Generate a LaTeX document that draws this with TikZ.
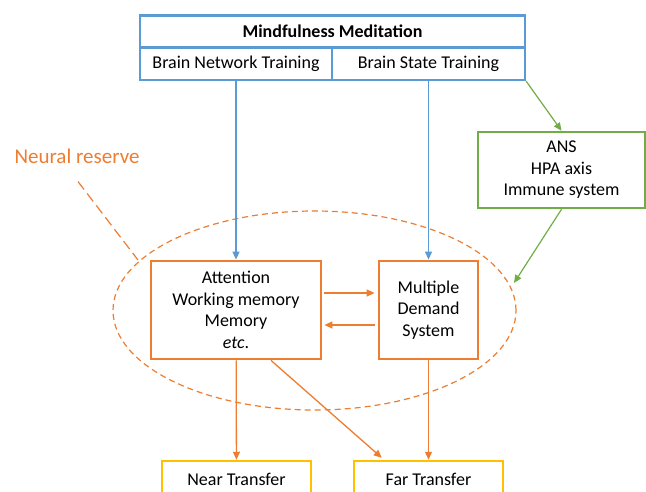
\documentclass[tikz,border=0pt]{standalone}
\usepackage{fontspec}
\setmainfont{Carlito}
\usepackage{tikz}
\usetikzlibrary{positioning,calc,arrows.meta}
\definecolor{msblue}{RGB}{91,155,213}
\definecolor{msorange}{RGB}{237,125,49}
\definecolor{msgreen}{RGB}{112,173,71}
\definecolor{msyellow}{RGB}{255,192,0}
\tikzset{>={Triangle[length=8pt,width=7pt]}}
\newcommand*{\bx}{\fontsize{18}{21.6}\selectfont}
\newcommand*{\lbl}{\fontsize{21}{25}\selectfont}

\begin{document}
\begin{tikzpicture}[x=1pt,y=-1pt,align=center,font=\bx,
  every node/.style={inner sep=0pt},
  bluebox/.style={draw=msblue,line width=2.2pt,fill=white,minimum height=32pt},
  orangebox/.style={draw=msorange,line width=2.8pt,fill=white},
  greenbox/.style={draw=msgreen,line width=2.5pt,fill=white},
  yellowbox/.style={draw=msyellow,line width=2.5pt,fill=white},
  bluearrow/.style={draw=msblue,line width=1.2pt,->},
  greenarrow/.style={draw=msgreen,line width=1.2pt,->},
  orangearrow/.style={draw=msorange,line width=1.3pt,->},
  reserve/.style={draw=msorange,line width=1.2pt,dash pattern=on 6pt off 4pt}]
\useasboundingbox (0,0) rectangle (646,491);
\clip (0,0) rectangle (646,491);
% Draw neural reserve ellipse and its label
\draw[reserve] (314.5,310.5) ellipse[x radius=201.5pt,y radius=99.5pt];
\node[font=\lbl,text=msorange] (nrlabel) at (77,156) {Neural reserve};
\coordinate (nrtip) at (138,260);
\draw[reserve,dash pattern=on 10pt off 5pt] ([shift={(1,18)}]nrlabel.south) -- (nrtip);
% Draw training boxes
\node[bluebox,minimum width=385pt,font=\bx\bfseries] (mm) at (332.5,31.5) {Mindfulness Meditation};
\node[bluebox,minimum width=192pt] (bnt) at (236,64) {Brain Network Training};
\node[bluebox,minimum width=193pt] (bst) at (428.5,64) {Brain State Training};
% Draw network and body boxes
\node[orangebox,minimum width=170pt,minimum height=98pt] (att) at (236,310) {Attention\\Working memory\\Memory\\\emph{etc}.};
\node[orangebox,minimum width=99pt,minimum height=98pt] (mds) at (428.5,310) {Multiple\\Demand\\System};
\node[greenbox,minimum width=167pt,minimum height=76pt] (ans) at (561.5,170) {ANS\\HPA axis\\Immune system};
% Draw transfer boxes
\node[yellowbox,minimum width=149pt,minimum height=36pt] (near) at (236.5,479) {Near Transfer};
\node[yellowbox,minimum width=149pt,minimum height=36pt] (far) at (428.5,479) {Far Transfer};
% Connect boxes
\draw[bluearrow] (bnt) -- (att);
\draw[bluearrow] (bst) -- (mds);
\draw[greenarrow] (bst.south east) -- (ans.north);
\coordinate (ansin) at (514,283);
\draw[greenarrow] (ans.south) -- (ansin);
\draw[orangearrow] ($(att.east)+(2,-17)$) -- ($(mds.west)+(-3,-17)$);
\draw[orangearrow] ($(mds.west)+(-3,15)$) -- ($(att.east)+(2,15)$);
\draw[orangearrow] (att) -- (near);
\draw[orangearrow] (mds) -- (far);
\draw[orangearrow] ($(att.south)+(35,0)$) -- ($(far.north west)+(29,-2)$);
\end{tikzpicture}
\end{document}
